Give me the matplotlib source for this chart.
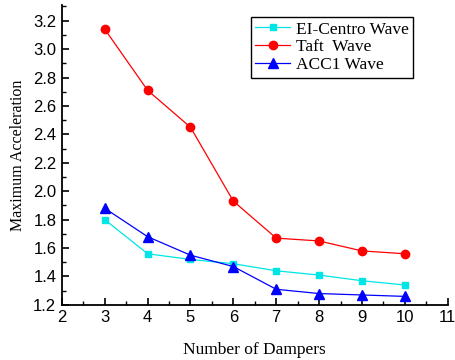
import matplotlib.pyplot as plt
from matplotlib.ticker import MultipleLocator

dampers = [3, 4, 5, 6, 7, 8, 9, 10]
el_centro = [1.80, 1.56, 1.52, 1.49, 1.44, 1.41, 1.37, 1.34]
taft = [3.14, 2.71, 2.45, 1.93, 1.67, 1.65, 1.58, 1.56]
acc1 = [1.88, 1.68, 1.55, 1.47, 1.31, 1.28, 1.27, 1.26]

fig = plt.figure(figsize=(4.55, 3.6), dpi=100)
ax = fig.add_axes([0.136, 0.153, 0.848, 0.833])

ax.plot(dampers, el_centro, color='#00e5e5', lw=0.9, marker='s', ms=5, label='EI-Centro Wave')
ax.plot(dampers, taft, color='red', lw=0.9, marker='o', ms=6, label='Taft  Wave')
ax.plot(dampers, acc1, color='blue', lw=0.9, marker='^', ms=6.5, label='ACC1 Wave')

ax.set_xlim(2, 11)
ax.set_ylim(1.2, 3.31)
ax.xaxis.set_major_locator(MultipleLocator(1))
ax.xaxis.set_minor_locator(MultipleLocator(0.5))
ax.yaxis.set_major_locator(MultipleLocator(0.2))
ax.yaxis.set_minor_locator(MultipleLocator(0.1))

for s in ['top', 'right']:
    ax.spines[s].set_visible(False)
for s in ['left', 'bottom']:
    ax.spines[s].set_linewidth(1.3)

ax.tick_params(which='major', direction='in', length=5, width=1.2,
               labelsize=12, pad=4)
ax.tick_params(which='minor', direction='in', length=3, width=1.0)
for lab in ax.get_xticklabels() + ax.get_yticklabels():
    lab.set_fontfamily('Liberation Sans')

ax.set_xlabel('Number of Dampers', family='Liberation Serif', fontsize=12.5, labelpad=12)
ax.set_ylabel('Maximum Acceleration', family='Liberation Serif', fontsize=11.5, labelpad=5)

leg = ax.legend(loc='upper left', bbox_to_anchor=(0.49, 0.96), fancybox=False,
                edgecolor='black', framealpha=1, borderpad=0.25, labelspacing=0.1,
                handlelength=2.0, handletextpad=0.35, borderaxespad=0,
                prop={'family': 'Liberation Serif', 'size': 12.5})
leg.get_frame().set_linewidth(1.0)

fig.savefig('out.png', dpi=100)
